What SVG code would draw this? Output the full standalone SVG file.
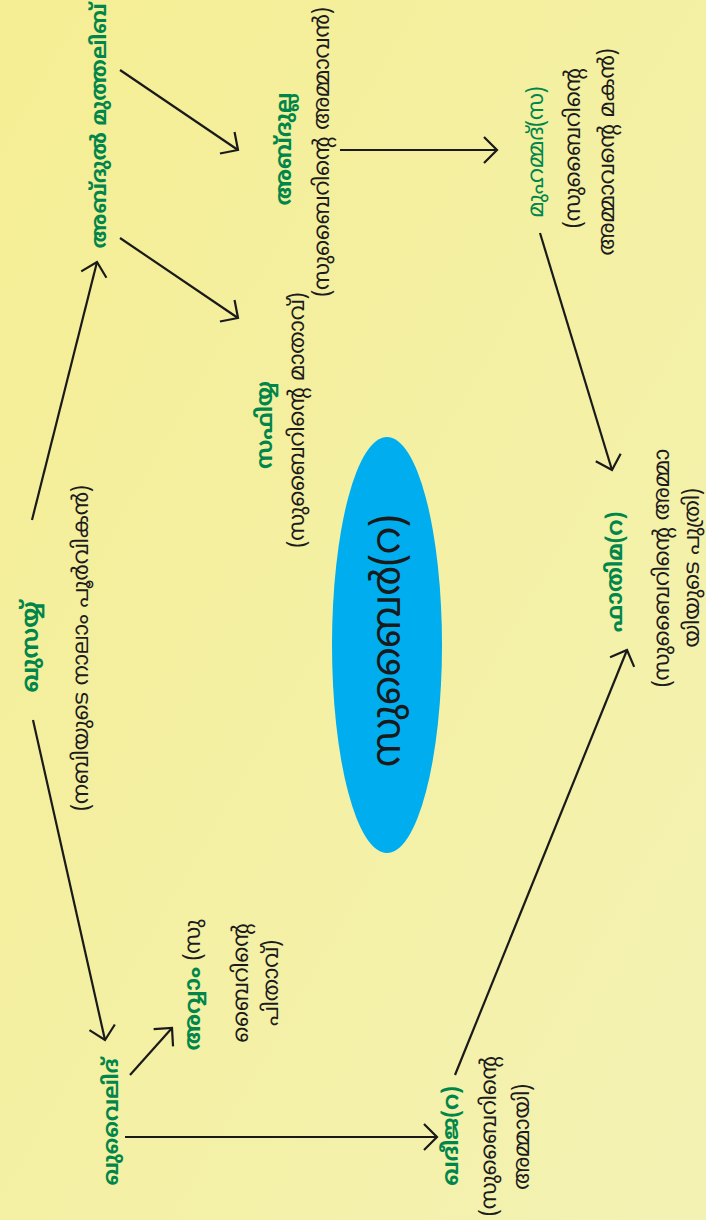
<svg xmlns="http://www.w3.org/2000/svg" width="706" height="1220" viewBox="0 0 706 1220">
<defs>
<linearGradient id="bg" x1="0" y1="0" x2="1" y2="1">
<stop offset="0" stop-color="#f5ee94"/>
<stop offset="1" stop-color="#f3f2b3"/>
</linearGradient>
<marker id="arr" markerUnits="userSpaceOnUse" markerWidth="30" markerHeight="30" viewBox="-16 -15 18 30" refX="0" refY="0" orient="auto">
<path d="M-13,-13 L0,0 L-13,13" fill="none" stroke="#1a1a1a" stroke-width="2.2"/>
</marker>
<style>
text{font-family:"Noto Sans Malayalam","Noto Sans",sans-serif;text-anchor:middle}
.g{fill:#00864a;font-weight:bold;font-size:22px}
.gr{fill:#00864a;font-size:22px}
.b{fill:#1c1c1c;font-size:22px}
.c{fill:#1a1a1a;font-size:40px}
.ln{stroke:#1a1a1a;stroke-width:2.2;fill:none;marker-end:url(#arr)}
</style>
</defs>
<rect width="706" height="1220" fill="url(#bg)"/>
<g id="connectors">
<line class="ln" x1="32" y1="520" x2="97" y2="262"/>
<line class="ln" x1="33" y1="720" x2="105" y2="1040"/>
<line class="ln" x1="120" y1="70" x2="238" y2="150"/>
<line class="ln" x1="120" y1="238" x2="238" y2="318"/>
<line class="ln" x1="340" y1="150" x2="497" y2="150"/>
<line class="ln" x1="540" y1="233" x2="612" y2="470"/>
<line class="ln" x1="130" y1="1075" x2="172" y2="1028"/>
<line class="ln" x1="125" y1="1137" x2="437" y2="1137"/>
<line class="ln" x1="455" y1="1075" x2="627" y2="650"/>
</g>
<g id="center">
<ellipse cx="387" cy="645" rx="55" ry="208" fill="#00adef"/>
<text class="c" x="400" y="641" transform="rotate(-90 400 641)">സുബൈർ(റ)</text>
</g>
<g id="qusayy">
<text class="g" x="38" y="647" transform="rotate(-90 38 647)" style="font-size:23px">ഖുസയ്യ്</text>
<text class="b" x="88" y="648" transform="rotate(-90 88 648)">(നബിയുടെ നാലാം പൂർവികൻ)</text>
</g>
<g id="abdulmuttalib">
<text class="g" x="106" y="126" transform="rotate(-90 106 126)" style="font-size:21px">അബ്ദുൽ മുത്തലിബ്</text>
</g>
<g id="abdullah">
<text class="g" x="291" y="149" transform="rotate(-90 291 149)">അബ്ദുല്ല</text>
<text class="b" x="329" y="152" transform="rotate(-90 329 152)">(സുബൈറിന്റെ അമ്മാവൻ)</text>
</g>
<g id="safiyya">
<text class="g" x="272" y="425" transform="rotate(-90 272 425)">സഫിയ്യ</text>
<text class="b" x="304" y="420" transform="rotate(-90 304 420)">(സുബൈറിന്റെ മാതാവ്)</text>
</g>
<g id="muhammad">
<text class="gr" x="543" y="152" transform="rotate(-90 543 152)">മുഹമ്മദ്(സ)</text>
<text class="b" x="580" y="148" transform="rotate(-90 580 148)">(സുബൈറിന്റെ</text>
<text class="b" x="614" y="152" transform="rotate(-90 614 152)">അമ്മാവന്റെ മകൻ)</text>
</g>
<g id="fatima">
<text class="g" x="622" y="572" transform="rotate(-90 622 572)">ഫാതിമ(റ)</text>
<text class="b" x="669" y="568" transform="rotate(-90 669 568)">(സുബൈറിന്റെ അമ്മാ</text>
<text class="b" x="699" y="568" transform="rotate(-90 699 568)">യിയുടെ പുത്രി)</text>
</g>
<g id="khuwaylid">
<text class="g" x="118" y="1122" transform="rotate(-90 118 1122)" style="font-size:21px">ഖുവൈലിദ്</text>
</g>
<g id="awwam">
<text class="b" x="200" y="985" transform="rotate(-90 200 985)"><tspan class="g">അവ്വാം</tspan> (സു</text>
<text class="b" x="248" y="983" transform="rotate(-90 248 983)">ബൈറിന്റെ</text>
<text class="b" x="278" y="983" transform="rotate(-90 278 983)">പിതാവ്)</text>
</g>
<g id="khadija">
<text class="g" x="458" y="1136" transform="rotate(-90 458 1136)">ഖദീജ(റ)</text>
<text class="b" x="496" y="1136" transform="rotate(-90 496 1136)">(സുബൈറിന്റെ</text>
<text class="b" x="529" y="1137" transform="rotate(-90 529 1137)">അമ്മായി)</text>
</g>
</svg>
